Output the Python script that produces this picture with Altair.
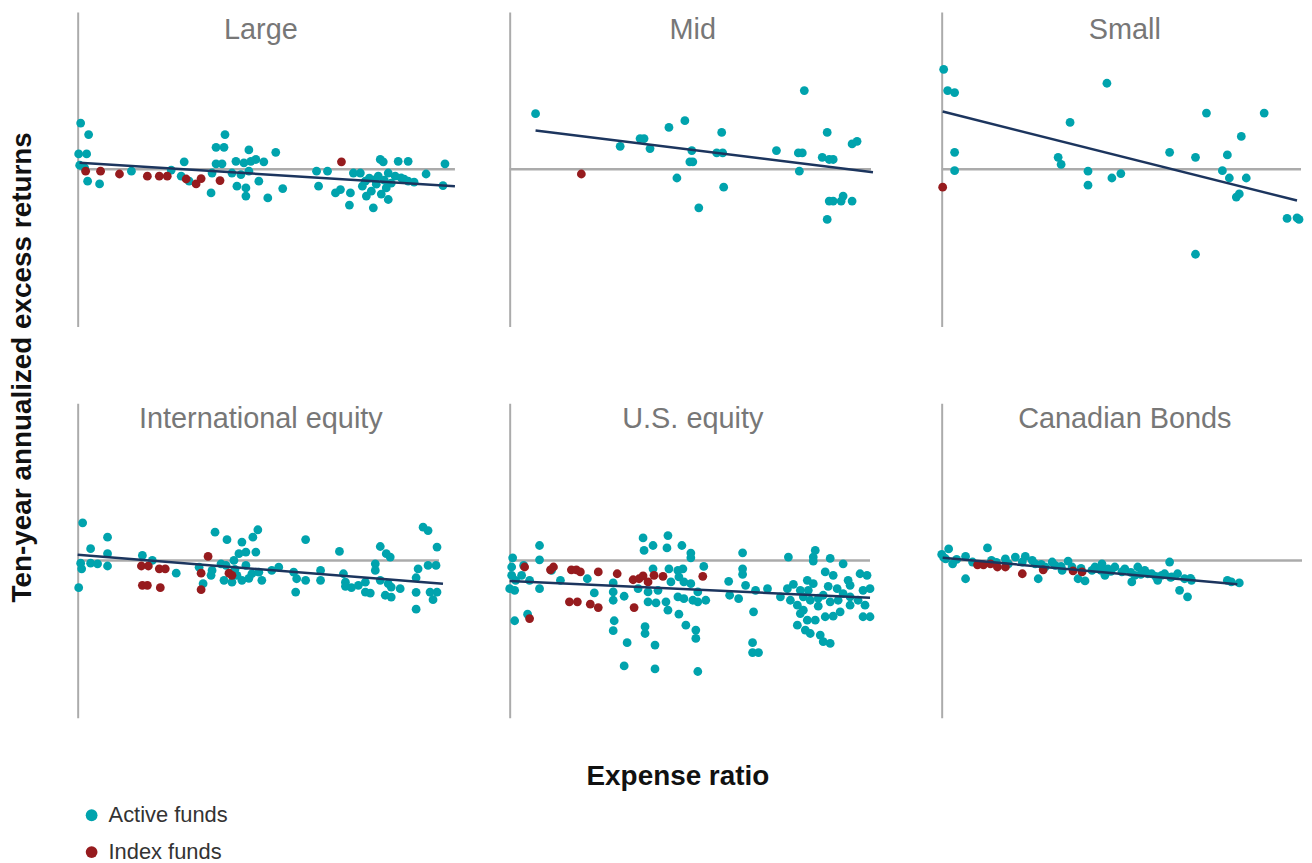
import altair as alt
import pandas as pd

TEAL = "#00A3AD"
RED = "#961B1E"
NAVY = "#1C355E"
GRAY = "#ABABAB"
TITLE_GRAY = "#777777"

panel_names = ["Large", "Mid", "Small", "International equity", "U.S. equity", "Canadian Bonds"]
fund_types = ["Active funds", "Index funds"]
y_title = "Ten-year annualized excess returns"
x_title = "Expense ratio"

# ---- Large ----
large_active_x = [0.03, 0.11, 0.01, 0.09, 0.02, 0.07, 0.10, 0.22, 0.54, 0.94,
                  1.07, 1.04, 1.12, 1.34, 1.39, 1.47, 1.48, 1.39, 1.45, 1.35,
                  1.59, 1.67, 1.74, 1.72, 1.79, 1.87, 1.99, 1.55, 1.64, 1.72,
                  1.82, 1.60, 1.69, 1.69, 1.91, 2.06, 2.40, 2.51, 2.42, 2.59,
                  2.64, 2.74, 2.73, 2.77, 2.84, 2.89, 2.99, 2.90, 2.95, 2.97,
                  3.04, 3.07, 3.02, 3.12, 3.19, 3.25, 3.32, 3.10, 3.12, 3.22,
                  3.32, 3.50, 3.69, 3.67, 2.93, 3.00, 3.08, 3.15, 3.28, 3.38,
                  2.86, 3.05]
large_active_y = [2.32, 1.74, 0.77, 0.77, 0.20, 0.07, -0.60, -0.74, -0.10, -0.04,
                  0.37, -0.35, -0.60, -1.19, 1.10, 1.10, 1.74, 0.27, 0.27, -0.19,
                  0.40, 0.32, 0.40, 0.97, 0.49, 0.37, 0.85, -0.19, -0.27, -0.10,
                  -0.60, -0.85, -0.94, -1.35, -1.44, -0.97, -0.10, -0.10, -0.85, -1.19,
                  -1.02, -1.19, -1.80, -0.19, -0.19, -0.60, -0.52, -1.35, -1.10, -1.94,
                  0.49, 0.37, -0.35, -0.19, -0.35, -0.44, -0.60, -0.94, -1.52, 0.40,
                  0.40, -0.24, 0.27, -0.82, -0.45, -0.75, -0.55, -0.70, -0.50, -0.65,
                  -0.85, -1.25]
large_index_x = [0.08, 0.23, 0.42, 0.70, 0.82, 0.90, 1.09, 1.19, 1.24, 1.43, 2.65]
large_index_y = [-0.10, -0.10, -0.24, -0.35, -0.35, -0.35, -0.49, -0.74, -0.47, -0.57, 0.37]

# ---- Mid ----
mid_active_x = [0.26, 1.11, 1.31, 1.35, 1.41, 1.60, 1.76, 1.83, 1.81, 1.84,
                1.68, 1.90, 2.13, 2.08, 2.14, 2.15, 2.68, 2.96, 2.90, 2.94,
                2.91, 3.19, 3.14, 3.21, 3.25, 3.44, 3.49, 3.21, 3.25, 3.33,
                3.35, 3.44, 3.19]
mid_active_y = [2.79, 1.15, 1.54, 1.54, 1.04, 2.10, 2.44, 0.94, 0.37, 0.37,
                -0.44, -1.94, 1.85, 0.82, 0.82, -0.90, 0.94, 3.95, 0.82, 0.82,
                -0.10, 1.85, 0.60, 0.49, 0.49, 1.27, 1.40, -1.60, -1.60, -1.60,
                -1.35, -1.60, -2.52]
mid_index_x = [0.72]
mid_index_y = [-0.24]

# ---- Small ----
small_active_x = [0.02, 0.06, 0.13, 0.13, 0.13, 1.66, 1.29, 1.17, 1.20, 1.47,
                  1.47, 1.71, 1.80, 2.29, 2.55, 2.66, 3.24, 3.01, 2.87, 2.82,
                  2.89, 3.06, 2.96, 2.99, 3.47, 3.57, 3.59, 2.55]
small_active_y = [5.02, 3.95, 3.85, 0.85, -0.07, 4.32, 2.35, 0.60, 0.24, -0.10,
                  -0.80, -0.44, -0.22, 0.85, 0.60, 2.82, 2.82, 1.65, 0.72, -0.07,
                  -0.44, -0.44, -1.40, -1.24, -2.47, -2.44, -2.52, -4.27]
small_index_x = [0.01]
small_index_y = [-0.90]

# ---- International equity ----
intl_active_x = [0.05, 0.01, 0.03, 0.04, 0.13, 0.13, 0.20, 0.30, 0.30, 0.30,
                 0.65, 0.75, 0.99, 1.22, 1.26, 1.38, 1.50, 1.65, 1.76, 1.81,
                 1.62, 1.69, 1.79, 1.34, 1.35, 1.44, 1.49, 1.57, 1.47, 1.55,
                 1.65, 1.69, 1.75, 1.85, 1.82, 1.95, 2.02, 2.17, 2.20, 2.29,
                 2.19, 2.29, 2.44, 2.44, 2.63, 2.67, 2.69, 2.69, 2.75, 2.82,
                 2.89, 2.89, 2.94, 2.99, 2.99, 3.04, 3.10, 3.14, 3.04, 3.12,
                 3.15, 3.24, 3.09, 3.15, 3.40, 3.42, 3.40, 3.40, 3.47, 3.52,
                 3.61, 3.52, 3.60, 3.54, 3.61, 3.57, 1.58, 1.72, 1.60]
intl_active_y = [1.89, -1.37, -0.14, -0.42, 0.59, -0.14, -0.17, 1.17, 0.34, -0.28,
                 0.25, 0.00, -0.64, -0.34, -1.17, 1.42, 1.04, 0.92, 1.17, 1.54,
                 0.34, 0.42, 0.42, -0.75, -0.50, -0.17, -0.25, 0.00, -1.00, -1.09,
                 -1.00, -0.25, -0.67, -1.00, -0.59, -0.50, -0.34, -0.59, -0.92, -1.00,
                 -1.59, 1.05, -0.50, -1.00, 0.45, -0.67, -1.09, -1.30, -1.37, -1.25,
                 -1.09, -1.59, -1.64, -0.17, -0.50, 0.70, 0.34, 0.17, -1.00, -1.17,
                 -1.34, -1.42, -1.75, -1.84, -0.87, -0.42, -1.60, -2.45, 1.67, 1.50,
                 0.67, -0.25, -0.25, -1.59, -1.59, -1.97, -0.45, -0.90, -0.75]
intl_index_x = [0.64, 0.71, 0.82, 0.88, 0.65, 0.70, 0.83, 1.31, 1.24, 1.24, 1.52, 1.55]
intl_index_y = [-0.28, -0.28, -0.42, -0.42, -1.25, -1.25, -1.37, 0.20, -0.64, -1.47, -0.64, -0.75]

# ---- U.S. equity ----
us_active_x = [0.03, 0.02, 0.02, 0.00, 0.05, 0.06, 0.12, 0.14, 0.20, 0.30,
               0.30, 0.30, 0.05, 0.18, 0.42, 0.51, 0.78, 0.85, 1.04, 1.04,
               1.04, 1.15, 1.05, 1.04, 1.18, 1.15, 1.34, 1.35, 1.44, 1.59,
               1.58, 1.73, 1.82, 1.82, 1.44, 1.60, 1.69, 1.74, 1.70, 1.62,
               1.75, 1.82, 1.95, 1.29, 1.39, 1.49, 1.39, 1.47, 1.57, 1.69,
               1.75, 1.84, 1.89, 1.97, 1.89, 1.59, 1.70, 1.77, 1.87, 1.87,
               1.36, 1.36, 1.46, 1.46, 1.89, 2.20, 2.21, 2.30, 2.34, 2.34,
               2.34, 2.37, 2.47, 2.59, 2.45, 2.44, 2.44, 2.50, 2.80, 2.79,
               2.72, 2.82, 2.92, 2.89, 2.99, 3.05, 2.95, 3.02, 3.07, 3.05,
               3.05, 3.22, 3.17, 3.25, 3.35, 3.29, 3.35, 3.42, 3.52, 3.59,
               3.55, 3.62, 2.92, 2.99, 3.07, 3.17, 3.32, 3.42, 3.57, 2.89,
               2.97, 3.02, 3.12, 3.15, 3.22, 3.55, 3.62, 3.15, 3.22, 3.42,
               2.85, 3.00, 3.10, 3.20, 3.30, 3.10, 2.95, 3.25, 3.40, 3.50]
us_active_y = [0.13, -0.33, -0.75, -1.42, -1.50, -1.00, -0.75, -0.25, -1.00, 0.75,
               0.03, -1.42, -3.03, -2.70, -0.50, -1.00, -0.92, -1.63, -1.13, -1.58,
               -2.00, -1.80, -3.03, -3.53, -4.13, -5.30, 1.13, 0.50, 0.75, 1.25,
               0.63, 0.75, 0.37, 0.13, -0.42, -0.42, -0.50, -0.42, -0.83, -1.08,
               -1.08, -1.17, -0.30, -1.42, -1.58, -1.50, -2.08, -2.13, -2.08, -1.83,
               -1.92, -2.00, -2.08, -2.00, -1.58, -2.50, -2.70, -3.25, -3.50, -3.92,
               -3.33, -3.67, -4.25, -5.45, -5.58, -1.05, -1.75, -1.92, 0.38, -0.42,
               -0.70, -1.25, -1.50, -1.42, -2.58, -4.13, -4.63, -4.63, 0.17, -1.42,
               -1.83, -2.00, -1.50, -2.25, -1.00, -1.17, -1.83, -2.00, 0.50, 0.17,
               -0.03, 0.10, -0.58, -0.75, -0.17, -1.42, -1.67, -1.25, -0.67, -0.75,
               -1.50, -1.42, -2.67, -3.00, -3.00, -2.83, -2.58, -2.25, -2.25, -3.25,
               -3.50, -3.67, -3.75, -4.08, -4.17, -2.83, -2.83, -1.75, -2.08, -1.83,
               -1.20, -1.50, -1.90, -1.30, -2.00, -2.30, -2.50, -2.80, -1.00, -2.00]
us_index_x = [0.15, 0.41, 0.44, 0.62, 0.67, 0.71, 0.89, 1.08, 1.24, 1.30,
              1.34, 1.39, 1.45, 1.54, 1.94, 0.60, 0.68, 0.81, 0.89, 1.25, 0.20]
us_index_y = [-0.33, -0.47, -0.33, -0.47, -0.47, -0.58, -0.58, -0.67, -0.97, -0.92,
              -0.78, -1.08, -0.75, -0.80, -0.80, -2.08, -2.08, -2.20, -2.37, -2.37, -2.92]

# ---- Canadian Bonds ----
bonds_active_x = [0.00, 0.07, 0.04, 0.11, 0.24, 0.24, 0.31, 0.46, 0.64, 0.74,
                  0.84, 0.91, 0.97, 1.11, 1.21, 1.27, 1.37, 1.44, 1.54, 1.61,
                  1.64, 1.74, 1.84, 1.91, 1.97, 2.04, 2.11, 2.17, 2.24, 2.29,
                  2.37, 2.39, 2.47, 2.51, 2.87, 2.99, 0.67, 0.81, 0.94, 1.04,
                  1.14, 1.31, 1.51, 1.67, 1.81, 1.94, 2.07, 2.21, 2.31, 2.44,
                  2.91, 0.02, 0.15, 0.50, 0.55, 1.00, 1.20, 1.40, 1.60, 1.70,
                  1.90, 2.00, 2.15, 2.30, 2.50]
bonds_active_y = [0.30, 0.58, 0.08, -0.17, 0.20, -0.92, -0.08, 0.63, 0.08, 0.17,
                  0.20, 0.00, -0.92, -0.08, -0.50, -0.03, -0.92, -1.03, -0.33, -0.17,
                  -0.75, -0.33, -0.42, -1.08, -0.33, -0.50, -0.67, -1.00, -0.67, -0.08,
                  -0.67, -1.50, -1.83, -1.00, -1.00, -1.13, -0.17, -0.08, -0.17, -0.33,
                  -0.25, -0.33, -0.50, -0.42, -0.58, -0.75, -0.67, -0.75, -0.83, -0.92,
                  -1.08, 0.15, 0.05, 0.00, -0.10, -0.20, -0.30, -0.40, -0.50, -0.55,
                  -0.60, -0.70, -0.80, -0.85, -0.90]
bonds_index_x = [0.36, 0.42, 0.49, 0.56, 0.64, 0.81, 1.02, 1.32, 1.41]
bonds_index_y = [-0.22, -0.22, -0.17, -0.33, -0.33, -0.67, -0.47, -0.53, -0.58]

# fitted lines and zero-line extent per panel
fit_x0 = [0.02, 0.26, 0.01, 0.00, 0.00, 0.01]
fit_y0 = [0.32, 1.95, 2.90, 0.28, -1.03, 0.13]
fit_x1 = [3.79, 3.65, 3.57, 3.67, 3.62, 2.97]
fit_y1 = [-0.85, -0.15, -1.57, -1.17, -1.87, -1.20]
zero_end = [3.79, 3.63, 3.61, 3.63, 3.62, 3.62]

panel_data = [
    (large_active_x, large_active_y, large_index_x, large_index_y),
    (mid_active_x, mid_active_y, mid_index_x, mid_index_y),
    (small_active_x, small_active_y, small_index_x, small_index_y),
    (intl_active_x, intl_active_y, intl_index_x, intl_index_y),
    (us_active_x, us_active_y, us_index_x, us_index_y),
    (bonds_active_x, bonds_active_y, bonds_index_x, bonds_index_y),
]

W, H = 358, 316
FONT = "Liberation Sans"
xs = alt.Scale(domain=[0, 3.58], nice=False, zero=False)
ys = alt.Scale(domain=[-7.9, 7.9], nice=False, zero=False)
color = alt.Color(
    "fund:N",
    scale=alt.Scale(domain=fund_types, range=[TEAL, RED]),
    legend=alt.Legend(
        title=None, orient="none", legendX=73, legendY=796, direction="vertical",
        symbolType="circle", symbolSize=140, symbolStrokeWidth=0,
        labelFont=FONT, labelFontSize=22, labelColor="#333333",
        labelOffset=6, rowPadding=15,
    ),
)


def make_panel(i, title_y):
    ax, ay, ix, iy = panel_data[i]
    pts = pd.DataFrame({
        "x": list(ax) + list(ix),
        "y": list(ay) + list(iy),
        "fund": [fund_types[0]] * len(ax) + [fund_types[1]] * len(ix),
    })
    zero_df = pd.DataFrame({"x": [0.0], "x2": [zero_end[i]], "y": [0.0]})
    fit_df = pd.DataFrame({"x": [fit_x0[i]], "x2": [fit_x1[i]], "y": [fit_y0[i]], "y2": [fit_y1[i]]})
    title_df = pd.DataFrame({"t": [panel_names[i]]})

    zero = alt.Chart(zero_df).mark_rule(color=GRAY, strokeWidth=2.5).encode(
        x=alt.X("x:Q", scale=xs, axis=None), x2="x2:Q",
        y=alt.Y("y:Q", scale=ys, axis=alt.Axis(domain=True, domainColor=GRAY, domainWidth=2,
                                               labels=False, ticks=False, grid=False, title=None)),
    )
    points = alt.Chart(pts).mark_circle(size=78, opacity=1).encode(
        x=alt.X("x:Q", scale=xs, axis=None),
        y=alt.Y("y:Q", scale=ys),
        color=color,
    )
    fit = alt.Chart(fit_df).mark_rule(color=NAVY, strokeWidth=2.5).encode(
        x=alt.X("x:Q", scale=xs, axis=None), x2="x2:Q",
        y=alt.Y("y:Q", scale=ys), y2="y2:Q",
    )
    title = alt.Chart(title_df).mark_text(
        font=FONT, fontSize=29, color=TITLE_GRAY, align="center", baseline="alphabetic"
    ).encode(text="t:N", x=alt.value(184), y=alt.value(title_y))
    return alt.layer(zero, points, fit, title).properties(width=W, height=H)


row1 = alt.hconcat(make_panel(0, 27), make_panel(1, 27), make_panel(2, 27), spacing=76, bounds="flush")
row2 = alt.hconcat(make_panel(3, 25), make_panel(4, 25), make_panel(5, 25), spacing=76, bounds="flush")
grid = alt.vconcat(row1, row2, spacing=77)

ytitle = alt.Chart(pd.DataFrame({"t": [y_title]})).mark_text(
    font=FONT, fontSize=28, fontWeight="bold", color="#111111", angle=270,
    align="center", baseline="middle"
).encode(text="t:N", x=alt.value(15), y=alt.value(357)).properties(width=40, height=2 * H + 77)

top = alt.hconcat(ytitle, grid, spacing=30, bounds="flush")

xtitle = alt.Chart(pd.DataFrame({"t": [x_title]})).mark_text(
    font=FONT, fontSize=28, fontWeight="bold", color="#111111", align="center", baseline="alphabetic"
).encode(text="t:N", x=alt.value(673), y=alt.value(28)).properties(width=1290, height=30)

chart = alt.vconcat(top, xtitle, spacing=40).properties(
    padding={"left": 0, "top": 2, "right": 0, "bottom": 0}
).configure_view(strokeWidth=0)

chart.save("out.html", embed_options={"renderer": "svg", "actions": False})
